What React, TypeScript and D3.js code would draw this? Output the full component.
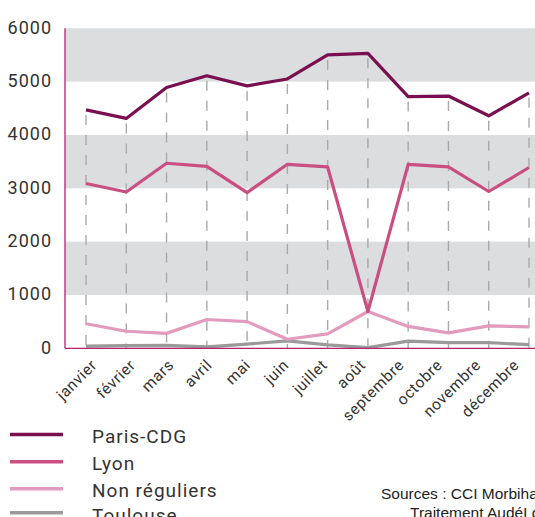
import React from "react";
import * as d3 from "d3";

const months = ["janvier", "février", "mars", "avril", "mai", "juin", "juillet", "août", "septembre", "octobre", "novembre", "décembre"];
const parisCDG = [4470, 4310, 4890, 5110, 4920, 5050, 5500, 5530, 4720, 4730, 4360, 4790];
const lyon = [3090, 2930, 3470, 3410, 2920, 3450, 3400, 690, 3450, 3400, 2940, 3390];
const nonReguliers = [460, 320, 280, 540, 500, 170, 270, 690, 410, 290, 420, 400];
const toulouse = [40, 50, 56, 25, 80, 140, 65, 12, 135, 105, 105, 68];
const yTicks = [0, 1000, 2000, 3000, 4000, 5000, 6000];
const bandRanges: [number, number][] = [[1000, 2000], [3000, 4000], [5000, 6000]];
const seriesNames = ["Paris-CDG", "Lyon", "Non réguliers", "Toulouse"];
const sourceLines = ["Sources : CCI Morbihan", "Traitement AudéLor"];

const seriesValues = [parisCDG, lyon, nonReguliers, toulouse];
const colors = ["#7a0f4f", "#c94f80", "#e39bbd", "#9a9a9a"];

export default function App() {
  const W = 535, H = 517;
  const left = 65, right = 535, top = 28.3, bottom = 348.3;
  const y = d3.scaleLinear().domain([0, 6000]).range([bottom, top]);
  const x = d3.scalePoint<string>().domain(months).range([86, 529]);
  const xl = d3.scalePoint<string>().domain(months).range([98, 520]);
  const line = d3.line<number>().x((_, i) => x(months[i])!).y((d) => y(d));
  const legendY = [434.5, 461.7, 488.7, 512.8];
  const drawOrder = [3, 2, 1, 0];
  const numFont = "Roboto, 'DejaVu Sans', sans-serif";

  return (
    <svg width={W} height={H} style={{ position: "absolute", left: 0, top: 0, background: "#fff" }}>
      {bandRanges.map(([a, b], i) => (
        <rect key={i} x={left} width={right - left} y={y(b)} height={y(a) - y(b)} fill="#dcdddf" />
      ))}
      {months.map((m, i) => (
        <line key={m} x1={x(m)} x2={x(m)} y1={y(parisCDG[i]) + 5} y2={bottom} stroke="#a9a9a9" strokeWidth={1.4} strokeDasharray="10 10" />
      ))}
      {drawOrder.map((si) => (
        <path key={si} d={line(seriesValues[si])!} fill="none" stroke={colors[si]} strokeWidth={3.2} strokeLinejoin="round" />
      ))}
      <line x1={left} x2={left} y1={top} y2={bottom} stroke="#b3216f" strokeWidth={1.3} />
      <line x1={left} x2={right} y1={bottom} y2={bottom} stroke="#b3216f" strokeWidth={1.3} />
      {yTicks.map((t) => (
        <text key={t} x={52} y={y(t) - 1} dy="0.36em" textAnchor="end" fontFamily={numFont} fontSize={18} letterSpacing={1} fill="#333">
          {t}
        </text>
      ))}
      {months.map((m) => (
        <text key={m} transform={`translate(${xl(m)},${366}) rotate(-45)`} textAnchor="end" fontFamily={numFont} fontSize={15.5} letterSpacing={0.6} fill="#333">
          {m}
        </text>
      ))}
      {seriesNames.map((n, i) => (
        <g key={n}>
          <line x1={10} x2={63} y1={legendY[i]} y2={legendY[i]} stroke={colors[i]} strokeWidth={3.5} />
          <text x={92} y={legendY[i] + 8.7} fontFamily={numFont} fontSize={19} letterSpacing={1} fill="#333">
            {n}
          </text>
        </g>
      ))}
      {sourceLines.map((s, i) => (
        <text key={s} x={i === 0 ? 381 : 410} y={499 + i * 19} fontFamily="'Liberation Sans', Arial, sans-serif" fontSize={15.5} fill="#222">
          {s}
        </text>
      ))}
    </svg>
  );
}
